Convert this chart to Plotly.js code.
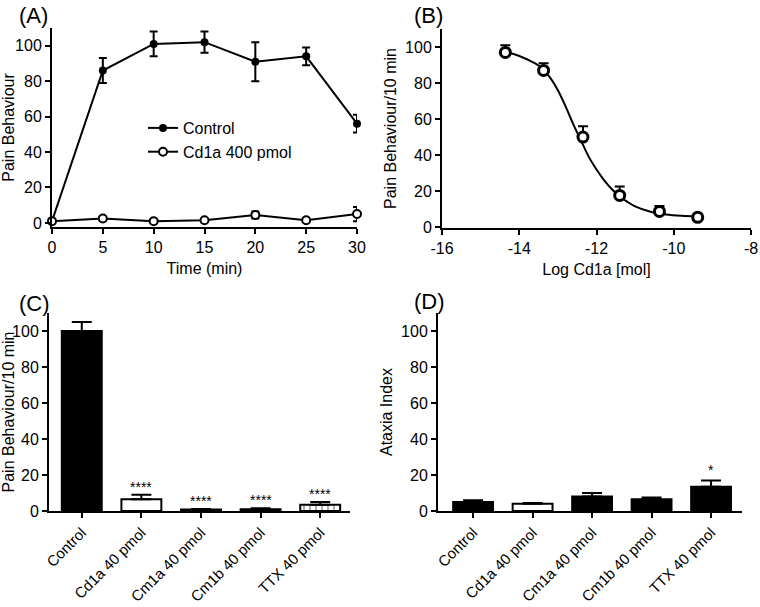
<!DOCTYPE html>
<html>
<head>
<meta charset="utf-8">
<script src="https://cdn.plot.ly/plotly-3.0.1.min.js"></script>
<style>
  html, body { margin: 0; padding: 0; background: #fff; }
  #plot { width: 760px; height: 607px; }
</style>
</head>
<body>
<div id="plot"></div>
<script>
// (A) time course
const timeMin = [0, 5, 10, 15, 20, 25, 30];
const controlPain = [1, 86, 101, 102, 91, 94, 56];
const controlErr = [1, 7, 7, 6, 11, 5, 5];
const cd1aPain = [1, 2.5, 1, 1.5, 4.5, 1.5, 5];
const cd1aErr = [0.5, 1, 0.5, 0.5, 2, 0.5, 4];

// (B) dose response
const logDose = [-14.36, -13.37, -12.35, -11.4, -10.37, -9.38];
const dosePain = [97, 87, 50, 17.6, 8.7, 5.4];
const doseErr = [4, 4, 6, 5, 3, 2];
const fitX = [-14.4, -14.0, -13.6, -13.4, -13.2, -13.0, -12.8, -12.6, -12.4, -12.2, -12.0,
  -11.8, -11.6, -11.4, -11.2, -11.0, -10.6, -10.2, -9.8, -9.4];
const fitY = [97.5, 95, 91, 88, 83, 76, 67, 57, 48, 39, 32, 26, 21, 17, 14, 11.5, 8.5, 7, 6.3, 6];
const doseTicks = [-16, -14, -12, -10, -8];

// (C) and (D) bars
const groups = ["Control", "Cd1a 40 pmol", "Cm1a 40 pmol", "Cm1b 40 pmol", "TTX 40 pmol"];
const painBars = [100, 6.5, 0.8, 1, 3.5];
const painBarErr = [5, 2.5, 0.3, 0.5, 1.5];
const painStars = ["", "****", "****", "****", "****"];
const ataxiaBars = [5, 4, 8, 6.5, 13.5];
const ataxiaErr = [1, 0.5, 2, 1, 3.5];
const ataxiaStars = ["", "", "", "", "*"];

const W = 760, H = 607;
const px = v => v / W;
const py = v => 1 - v / H;
const font = "Arial, 'Liberation Sans', sans-serif";

const traces = [];

traces.push({
  x: timeMin, y: controlPain, xaxis: "x", yaxis: "y", name: "Control",
  type: "scatter", mode: "lines+markers", cliponaxis: false,
  line: { color: "#000", width: 2 },
  marker: { color: "#000", size: 8, symbol: "circle" },
  error_y: { type: "data", array: controlErr, color: "#000", thickness: 2, width: 4 }
});
traces.push({
  x: timeMin, y: cd1aPain, xaxis: "x", yaxis: "y", name: "Cd1a 400 pmol",
  type: "scatter", mode: "lines+markers", cliponaxis: false,
  line: { color: "#000", width: 2 },
  marker: { color: "#fff", size: 8, symbol: "circle", line: { color: "#000", width: 2 } },
  error_y: { type: "data", array: cd1aErr, color: "#000", thickness: 2, width: 4 }
});

traces.push({
  x: fitX, y: fitY, xaxis: "x2", yaxis: "y2", showlegend: false,
  type: "scatter", mode: "lines", line: { color: "#000", width: 2, shape: "spline" }
});
traces.push({
  x: logDose, y: dosePain, xaxis: "x2", yaxis: "y2", showlegend: false,
  type: "scatter", mode: "markers", cliponaxis: false,
  marker: { color: "#fff", size: 10, symbol: "circle", line: { color: "#000", width: 3 } },
  error_y: { type: "data", array: doseErr, arrayminus: doseErr.map(() => 0), color: "#000", thickness: 2, width: 5 }
});

traces.push({
  x: [0, 1, 2, 3, 4], y: painBars, xaxis: "x3", yaxis: "y3", showlegend: false,
  type: "bar", width: 0.67,
  marker: {
    color: ["#000", "#fff", "#000", "#000", "#fff"],
    line: { color: "#000", width: 2 },
    pattern: { shape: ["", "", "", "", "|"], fgcolor: "#000", bgcolor: "#fff", fillmode: "overlay", size: 6, solidity: 0.3 }
  },
  error_y: { type: "data", array: painBarErr, arrayminus: painBarErr.map(() => 0), color: "#000", thickness: 2, width: 10 }
});
traces.push({
  x: [0, 1, 2, 3, 4], y: ataxiaBars, xaxis: "x4", yaxis: "y4", showlegend: false,
  type: "bar", width: 0.67,
  marker: { color: ["#000", "#fff", "#000", "#000", "#000"], line: { color: "#000", width: 2 } },
  error_y: { type: "data", array: ataxiaErr, arrayminus: ataxiaErr.map(() => 0), color: "#000", thickness: 2, width: 10 }
});

const axBase = {
  showline: true, linecolor: "#000", linewidth: 2, showgrid: false, zeroline: false,
  ticks: "outside", ticklen: 5, tickwidth: 2, tickcolor: "#000",
  tickfont: { family: font, size: 16, color: "#000" }, fixedrange: true
};
const catTickFont = { family: font, size: 15, color: "#000" };
const titleFont = { family: font, size: 16, color: "#000" };

const layout = {
  width: W, height: H,
  margin: { l: 0, r: 0, t: 0, b: 0 },
  paper_bgcolor: "#fff", plot_bgcolor: "rgba(0,0,0,0)",
  font: { family: font, color: "#000" },
  showlegend: true,
  legend: {
    x: px(143), y: py(111), xanchor: "left", yanchor: "top",
    bgcolor: "rgba(0,0,0,0)", font: { family: font, size: 16, color: "#000" },
    itemwidth: 30, tracegroupgap: 4
  },
  xaxis: Object.assign({}, axBase, {
    domain: [px(52), px(357)], range: [0, 30], tickvals: timeMin, anchor: "y",
    title: { text: "Time (min)", font: titleFont, standoff: 8 }
  }),
  yaxis: Object.assign({}, axBase, {
    domain: [py(227), py(28)], range: [-2.3, 110], tickvals: [0, 20, 40, 60, 80, 100], anchor: "x",
    title: { text: "Pain Behaviour", font: titleFont, standoff: 4 }
  }),
  xaxis2: Object.assign({}, axBase, {
    domain: [px(442), px(751)], range: [-16, -8], tickvals: doseTicks,
    ticktext: doseTicks.map(String), anchor: "y2",
    title: { text: "Log Cd1a [mol]", font: titleFont, standoff: 8 }
  }),
  yaxis2: Object.assign({}, axBase, {
    domain: [py(228), py(29)], range: [-0.5, 110], tickvals: [0, 20, 40, 60, 80, 100], anchor: "x2",
    title: { text: "Pain Behaviour/10 min", font: titleFont, standoff: 4 }
  }),
  xaxis3: Object.assign({}, axBase, {
    domain: [px(49), px(350)], range: [-0.55, 4.5], anchor: "y3",
    tickvals: [0, 1, 2, 3, 4], ticktext: groups, tickangle: -45, tickfont: catTickFont
  }),
  yaxis3: Object.assign({}, axBase, {
    domain: [py(511), py(313)], range: [0, 110], tickvals: [0, 20, 40, 60, 80, 100], anchor: "x3",
    title: { text: "Pain Behaviour/10 min", font: titleFont, standoff: 2 }
  }),
  xaxis4: Object.assign({}, axBase, {
    domain: [px(438), px(742)], range: [-0.59, 4.52], anchor: "y4",
    tickvals: [0, 1, 2, 3, 4], ticktext: groups, tickangle: -45, tickfont: catTickFont
  }),
  yaxis4: Object.assign({}, axBase, {
    domain: [py(511), py(313)], range: [0, 110], tickvals: [0, 20, 40, 60, 80, 100], anchor: "x4",
    title: { text: "Ataxia Index", font: titleFont, standoff: 4 }
  }),
  annotations: []
};

// panel letters
[["(A)", 17, 15], ["(B)", 412, 15], ["(C)", 17, 303], ["(D)", 412, 301]].forEach(([t, x, y]) => {
  layout.annotations.push({
    text: t, xref: "paper", yref: "paper", x: px(x), y: py(y),
    xanchor: "left", yanchor: "middle", showarrow: false,
    font: { family: font, size: 22, color: "#000" }
  });
});

// significance stars
painStars.forEach((s, i) => {
  if (!s) return;
  layout.annotations.push({
    text: s, xref: "x3", yref: "y3", x: i, y: painBars[i] + painBarErr[i],
    yanchor: "bottom", yshift: -2, showarrow: false, font: { family: font, size: 14, color: "#000" }
  });
});
ataxiaStars.forEach((s, i) => {
  if (!s) return;
  layout.annotations.push({
    text: s, xref: "x4", yref: "y4", x: i, y: ataxiaBars[i] + ataxiaErr[i],
    yanchor: "bottom", yshift: 0, showarrow: false, font: { family: font, size: 14, color: "#000" }
  });
});

Plotly.newPlot("plot", traces, layout, { displayModeBar: false, staticPlot: true });
</script>
</body>
</html>
